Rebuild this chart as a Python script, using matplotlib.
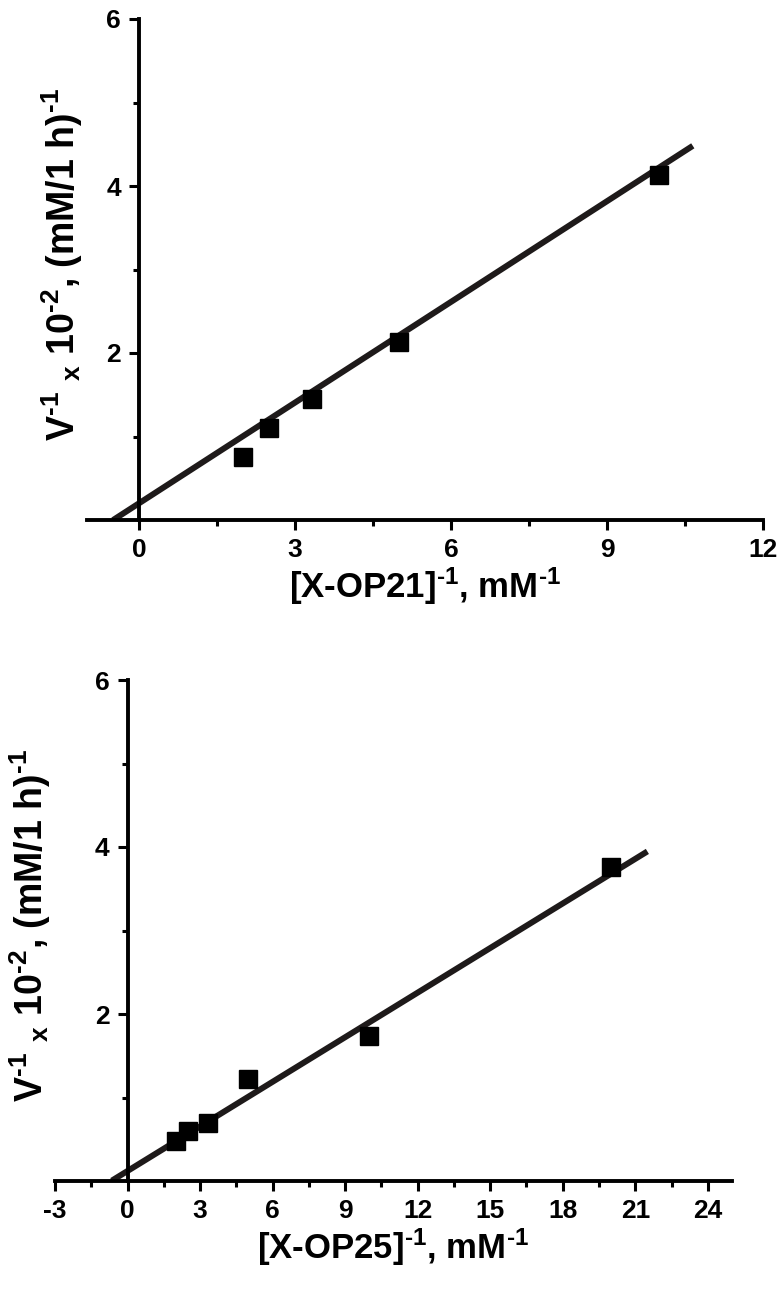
import matplotlib
matplotlib.use('Agg')
import matplotlib.pyplot as plt
import numpy as np
from matplotlib.ticker import MultipleLocator, FixedLocator

plt.rcParams['font.family'] = ['Liberation Sans', 'DejaVu Sans']
plt.rcParams['font.weight'] = 'bold'
plt.rcParams['axes.unicode_minus'] = False
plt.rcParams['mathtext.fontset'] = 'custom'
plt.rcParams['mathtext.rm'] = 'Liberation Sans:bold'
plt.rcParams['mathtext.bf'] = 'Liberation Sans:bold'
plt.rcParams['mathtext.it'] = 'Liberation Sans:bold'
plt.rcParams['mathtext.default'] = 'rm'

# panel 1: X-OP21
x1 = [2.0, 2.5, 3.33, 5.0, 10.0]
y1 = [0.75, 1.10, 1.45, 2.13, 4.13]
fit1 = [0.402, 0.20]      # slope, intercept
fit1_range = [-0.5, 10.65]

# panel 2: X-OP25
x2 = [2.0, 2.5, 3.33, 5.0, 10.0, 20.0]
y2 = [0.48, 0.60, 0.69, 1.22, 1.74, 3.76]
fit2 = [0.178, 0.12]
fit2_range = [-0.65, 21.5]

ylabel = r'V$^{\text{-1}}$ $_{x}$ 10$^{\text{-2}}$, (mM/1 h)$^{\text{-1}}$'
xlabel1 = r'[X-OP21]$^{\text{-1}}$, mM$^{\text{-1}}$'
xlabel2 = r'[X-OP25]$^{\text{-1}}$, mM$^{\text{-1}}$'

tick_font = ['Liberation Sans Narrow', 'Liberation Sans']

fig = plt.figure(figsize=(7.84, 13.0), dpi=100)
ax1 = fig.add_axes([87/784, 1-520/1300, 676/784, 501/1300])
ax2 = fig.add_axes([55/784, 1-1181/1300, 677/784, 501/1300])

panels = [
    (ax1, x1, y1, fit1, fit1_range, xlabel1, (-1, 12), [0, 3, 6, 9, 12]),
    (ax2, x2, y2, fit2, fit2_range, xlabel2, (-3, 25), [-3, 0, 3, 6, 9, 12, 15, 18, 21, 24]),
]

for ax, xs, ys, fit, frange, xl, xlim, xt in panels:
    xx = np.array(frange)
    ax.plot(xx, fit[0]*xx + fit[1], color='#1e1a1a', lw=4.3, solid_capstyle='butt', zorder=2)
    ax.plot(xs, ys, 's', color='black', ms=13, zorder=3)
    ax.set_xlim(*xlim)
    ax.set_ylim(0, 6)
    ax.spines['top'].set_visible(False)
    ax.spines['right'].set_visible(False)
    ax.spines['left'].set_position(('data', 0))
    for s in ['left', 'bottom']:
        ax.spines[s].set_linewidth(2.8)
    ax.xaxis.set_major_locator(FixedLocator(xt))
    ax.xaxis.set_minor_locator(MultipleLocator(1.5))
    ax.yaxis.set_major_locator(FixedLocator([2, 4, 6]))
    ax.yaxis.set_minor_locator(FixedLocator([1, 3, 5]))
    ax.tick_params(which='major', length=7, width=2.2, labelsize=19, pad=6)
    ax.tick_params(which='minor', length=4, width=2.2)
    ax.patch.set_visible(False)
    ax.set_xlabel(xl, fontsize=25, fontweight='bold')
    ax.set_ylabel(ylabel, fontsize=27, fontweight='bold')
    ax.yaxis.set_label_coords(-0.003, 0.51)
    ax.xaxis.set_label_coords(0.5, -0.09)
    for lab in ax.get_xticklabels() + ax.get_yticklabels():
        lab.set_fontweight('bold')
        lab.set_family(tick_font)

fig.savefig('out.png', dpi=100)
